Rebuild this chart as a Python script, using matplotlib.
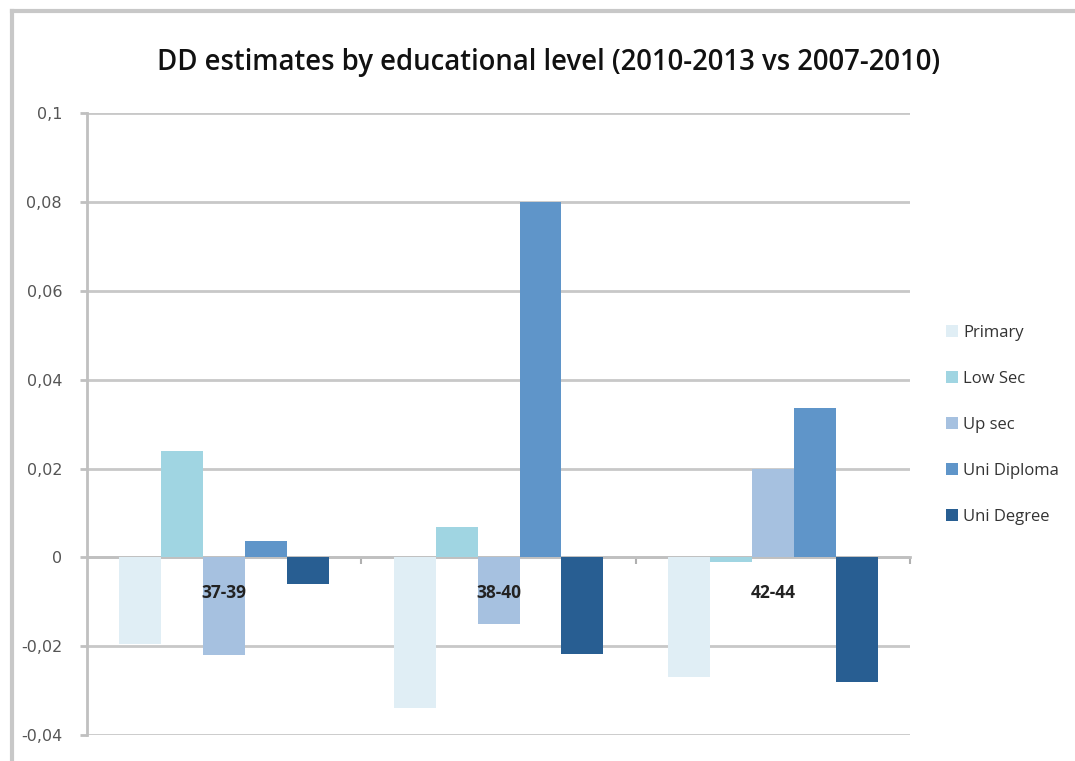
import matplotlib
matplotlib.use("Agg")
import matplotlib.pyplot as plt
import numpy as np

groups = ["37-39", "38-40", "42-44"]
series = ["Primary", "Low Sec", "Up sec", "Uni Diploma", "Uni Degree"]
primary = [-0.0194, -0.0339, -0.0269]
low_sec = [0.0240, 0.0068, -0.0010]
up_sec = [-0.0219, -0.0150, 0.0199]
uni_diploma = [0.0037, 0.0800, 0.0337]
uni_degree = [-0.0061, -0.0218, -0.0281]
values = [primary, low_sec, up_sec, uni_diploma, uni_degree]
colors = ["#e0eef5", "#a0d5e2", "#a6c1e0", "#5f95c9", "#285e92"]
yticks = [-0.04, -0.02, 0, 0.02, 0.04, 0.06, 0.08, 0.1]
ytick_labels = ["-0,04", "-0,02", "0", "0,02", "0,04", "0,06", "0,08", "0,1"]

fig = plt.figure(figsize=(10.75, 7.61), dpi=100)
ax = fig.add_axes([0.081, 0.034, 0.7655, 0.8175])

x = np.arange(len(groups))
w = 0.153
for i, (name, vals, c) in enumerate(zip(series, values, colors)):
    ax.bar(x + (i - 2) * w, vals, width=w, color=c, label=name, zorder=3,
           edgecolor="none")

ax.set_xlim(-0.5, 2.5)
ax.set_ylim(-0.04, 0.1)
ax.set_yticks(yticks)
ax.set_yticklabels(ytick_labels, fontsize=11.5, color="#555555", family="DejaVu Sans")
ax.yaxis.grid(True, color="#c8c8c8", linewidth=2, zorder=0)
ax.set_axisbelow(True)

for s in ["top", "right"]:
    ax.spines[s].set_visible(False)
ax.spines["left"].set_color("#c0c0c0")
ax.spines["left"].set_linewidth(2)
ax.spines["bottom"].set_position(("data", 0))
ax.spines["bottom"].set_color("#c0c0c0")
ax.spines["bottom"].set_linewidth(2)
ax.spines["bottom"].set_zorder(2)
ax.set_xticks([0.5, 1.5, 2.5])
ax.set_xticklabels([])
ax.tick_params(axis="x", length=5, width=1.5, color="#b0b0b0", direction="out")
ax.tick_params(axis="y", length=5, width=2, color="#c0c0c0", pad=13)

for xi, g in zip(x, groups):
    ax.text(xi, -0.008, g, ha="center", va="center", fontsize=12.5,
            fontweight="bold", color="#222222", family="Open Sans", zorder=5)

fig.text(0.51, 0.918, "DD estimates by educational level (2010-2013 vs 2007-2010)",
         ha="center", va="center", fontsize=19.8, fontweight="semibold",
         family="Open Sans", color="#111111")

leg = ax.legend(loc="center left", bbox_to_anchor=(0.866, 0.4415),
                bbox_transform=fig.transFigure, frameon=False,
                prop={"family": "Open Sans", "size": 12},
                handlelength=0.7, handleheight=0.7, handletextpad=0.35,
                labelspacing=1.8, labelcolor="#333333")

# chart area border (top and left)
fig.add_artist(plt.Line2D([0.011, 1.0], [0.985, 0.985], transform=fig.transFigure,
                          color="#c8c8c8", linewidth=3))
fig.add_artist(plt.Line2D([0.011, 0.011], [0.0, 0.985], transform=fig.transFigure,
                          color="#c8c8c8", linewidth=3))

fig.savefig("out.png", dpi=100)
